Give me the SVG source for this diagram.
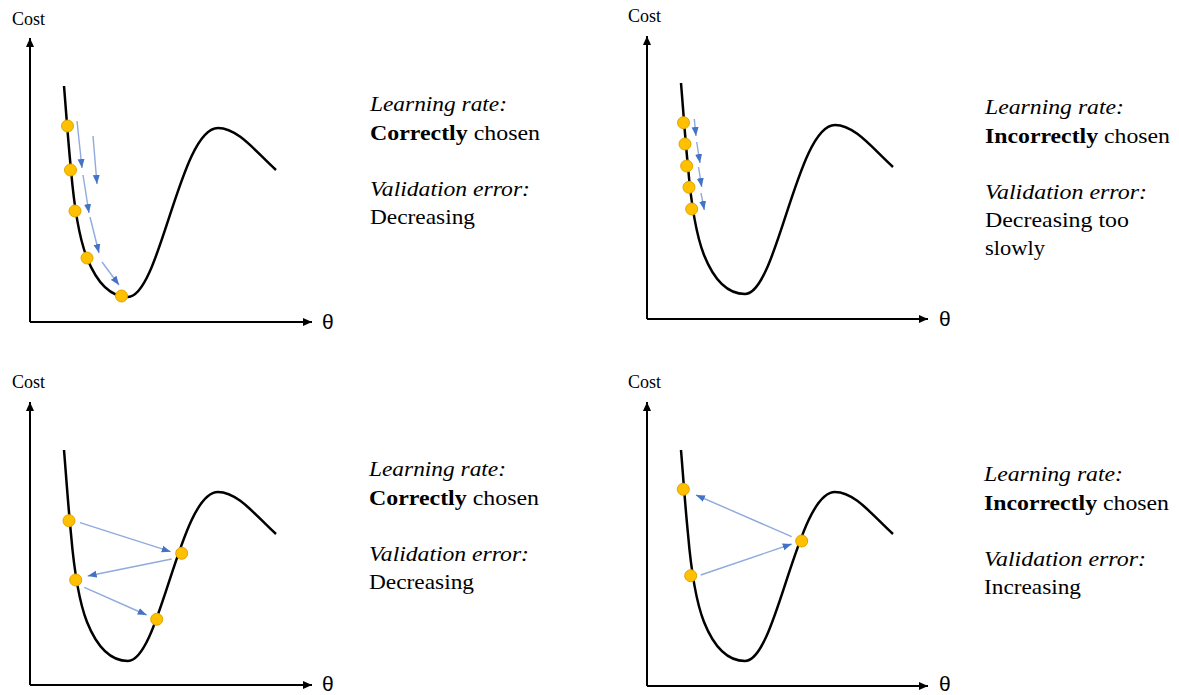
<svg xmlns="http://www.w3.org/2000/svg" width="1179" height="695" viewBox="0 0 1179 695">
<style>
.axis{stroke:#000;stroke-width:2;fill:none}
.curve{stroke:#000;stroke-width:2.5;fill:none}
.dot{fill:#FFC000;stroke:#E0A500;stroke-width:1}
.step{stroke:#8FAADC;stroke-width:1.4;fill:none}
.cost{font-size:18px;fill:#000}
.theta{font-size:21px;fill:#000}
.lbl{font-size:22px;fill:#000}
.it{font-style:italic}
.b{font-weight:bold}
</style>
<defs>
<marker id="ax" markerUnits="userSpaceOnUse" markerWidth="10" markerHeight="8" refX="9" refY="4" orient="auto"><path d="M0,0 L9,4 L0,8 z" fill="#000"/></marker>
<marker id="hd" markerUnits="userSpaceOnUse" markerWidth="9" markerHeight="8" refX="9" refY="4" orient="auto"><path d="M0,0.5 L9,4 L0,7.5 z" fill="#4472C4"/></marker>
<path id="cv" d="M64,86 C66,110 68,140 71,170 C74,205 78,235 87,258 C97,283 110,297 128,297 C160,297 180,128 218,128 C238,128 256,152 276,170"/>
</defs>

<g id="panel-tl" font-family="'Liberation Serif', 'Times New Roman', serif">
<text class="cost" x="12" y="25">Cost</text>
<line class="axis" x1="30" y1="322" x2="30" y2="38" marker-end="url(#ax)"/>
<line class="axis" x1="30" y1="322" x2="312" y2="322" marker-end="url(#ax)"/>
<text class="theta" x="322" y="329" font-family="'Liberation Sans', Arial, sans-serif">θ</text>
<use href="#cv" class="curve"/>
<g id="tl-connectors">
<line class="step" x1="77" y1="121" x2="82" y2="168" marker-end="url(#hd)"/>
<line class="step" x1="93" y1="136" x2="97" y2="184" marker-end="url(#hd)"/>
<line class="step" x1="83" y1="175" x2="89" y2="213" marker-end="url(#hd)"/>
<line class="step" x1="90" y1="217" x2="99" y2="253" marker-end="url(#hd)"/>
<line class="step" x1="102" y1="262" x2="119" y2="285" marker-end="url(#hd)"/>
</g>
<circle class="dot" cx="67.5" cy="126" r="6"/>
<circle class="dot" cx="70.5" cy="170" r="6"/>
<circle class="dot" cx="75" cy="211" r="6"/>
<circle class="dot" cx="87" cy="258" r="6"/>
<circle class="dot" cx="121.5" cy="296" r="6"/>
<text class="lbl it" x="370" y="111" textLength="137" lengthAdjust="spacingAndGlyphs">Learning rate:</text>
<text class="lbl" x="370" y="139.5" textLength="170" lengthAdjust="spacingAndGlyphs"><tspan class="b">Correctly</tspan> chosen</text>
<text class="lbl it" x="370" y="195.5" textLength="160" lengthAdjust="spacingAndGlyphs">Validation error:</text>
<text class="lbl" x="370" y="223.5" textLength="105" lengthAdjust="spacingAndGlyphs">Decreasing</text>
</g>

<g id="panel-tr" font-family="'Liberation Serif', 'Times New Roman', serif">
<text class="cost" x="628" y="22">Cost</text>
<line class="axis" x1="647" y1="319" x2="647" y2="36" marker-end="url(#ax)"/>
<line class="axis" x1="647" y1="319" x2="928" y2="319" marker-end="url(#ax)"/>
<text class="theta" x="939" y="326" font-family="'Liberation Sans', Arial, sans-serif">θ</text>
<use href="#cv" class="curve" transform="translate(617,-3)"/>
<g id="tr-connectors">
<line class="step" x1="694.3" y1="119" x2="696" y2="136" marker-end="url(#hd)"/>
<line class="step" x1="696.7" y1="142" x2="700" y2="163" marker-end="url(#hd)"/>
<line class="step" x1="698.5" y1="167" x2="701.7" y2="187" marker-end="url(#hd)"/>
<line class="step" x1="701" y1="193" x2="704.3" y2="210" marker-end="url(#hd)"/>
</g>
<circle class="dot" cx="683.5" cy="122.7" r="6"/>
<circle class="dot" cx="685" cy="144" r="6"/>
<circle class="dot" cx="686.7" cy="166" r="6"/>
<circle class="dot" cx="689" cy="187.3" r="6"/>
<circle class="dot" cx="691.7" cy="209" r="6"/>
<text class="lbl it" x="985" y="114" textLength="139" lengthAdjust="spacingAndGlyphs">Learning rate:</text>
<text class="lbl" x="985" y="142.5" textLength="185" lengthAdjust="spacingAndGlyphs"><tspan class="b">Incorrectly</tspan> chosen</text>
<text class="lbl it" x="985" y="198.5" textLength="162" lengthAdjust="spacingAndGlyphs">Validation error:</text>
<text class="lbl" x="985" y="226.5" textLength="144" lengthAdjust="spacingAndGlyphs">Decreasing too</text>
<text class="lbl" x="985" y="254.5" textLength="60" lengthAdjust="spacingAndGlyphs">slowly</text>
</g>

<g id="panel-bl" font-family="'Liberation Serif', 'Times New Roman', serif">
<text class="cost" x="12" y="388">Cost</text>
<line class="axis" x1="30" y1="685" x2="30" y2="402" marker-end="url(#ax)"/>
<line class="axis" x1="30" y1="685" x2="312" y2="685" marker-end="url(#ax)"/>
<text class="theta" x="322" y="691" font-family="'Liberation Sans', Arial, sans-serif">θ</text>
<use href="#cv" class="curve" transform="translate(0,364)"/>
<g id="bl-connectors">
<line class="step" x1="80" y1="522.7" x2="170.7" y2="551.7" marker-end="url(#hd)"/>
<line class="step" x1="171.7" y1="559" x2="87.7" y2="576" marker-end="url(#hd)"/>
<line class="step" x1="84.3" y1="587.3" x2="146.7" y2="615" marker-end="url(#hd)"/>
</g>
<circle class="dot" cx="69" cy="520.7" r="6"/>
<circle class="dot" cx="181.7" cy="553.3" r="6"/>
<circle class="dot" cx="75.7" cy="580" r="6"/>
<circle class="dot" cx="156.7" cy="619.3" r="6"/>
<text class="lbl it" x="369" y="476" textLength="137" lengthAdjust="spacingAndGlyphs">Learning rate:</text>
<text class="lbl" x="369" y="504.5" textLength="170" lengthAdjust="spacingAndGlyphs"><tspan class="b">Correctly</tspan> chosen</text>
<text class="lbl it" x="369" y="560.5" textLength="160" lengthAdjust="spacingAndGlyphs">Validation error:</text>
<text class="lbl" x="369" y="588.5" textLength="105" lengthAdjust="spacingAndGlyphs">Decreasing</text>
</g>

<g id="panel-br" font-family="'Liberation Serif', 'Times New Roman', serif">
<text class="cost" x="628" y="388">Cost</text>
<line class="axis" x1="647" y1="686" x2="647" y2="402" marker-end="url(#ax)"/>
<line class="axis" x1="647" y1="686" x2="928" y2="686" marker-end="url(#ax)"/>
<text class="theta" x="939" y="691" font-family="'Liberation Sans', Arial, sans-serif">θ</text>
<use href="#cv" class="curve" transform="translate(617,364)"/>
<g id="br-connectors">
<line class="step" x1="791.7" y1="536.7" x2="696" y2="495" marker-end="url(#hd)"/>
<line class="step" x1="700.7" y1="575" x2="791.7" y2="544" marker-end="url(#hd)"/>
</g>
<circle class="dot" cx="683.3" cy="489.3" r="6"/>
<circle class="dot" cx="801.7" cy="541" r="6"/>
<circle class="dot" cx="690.7" cy="575.7" r="6"/>
<text class="lbl it" x="984" y="481" textLength="139" lengthAdjust="spacingAndGlyphs">Learning rate:</text>
<text class="lbl" x="984" y="509.5" textLength="185" lengthAdjust="spacingAndGlyphs"><tspan class="b">Incorrectly</tspan> chosen</text>
<text class="lbl it" x="984" y="565.5" textLength="162" lengthAdjust="spacingAndGlyphs">Validation error:</text>
<text class="lbl" x="984" y="593.5" textLength="97" lengthAdjust="spacingAndGlyphs">Increasing</text>
</g>
</svg>
